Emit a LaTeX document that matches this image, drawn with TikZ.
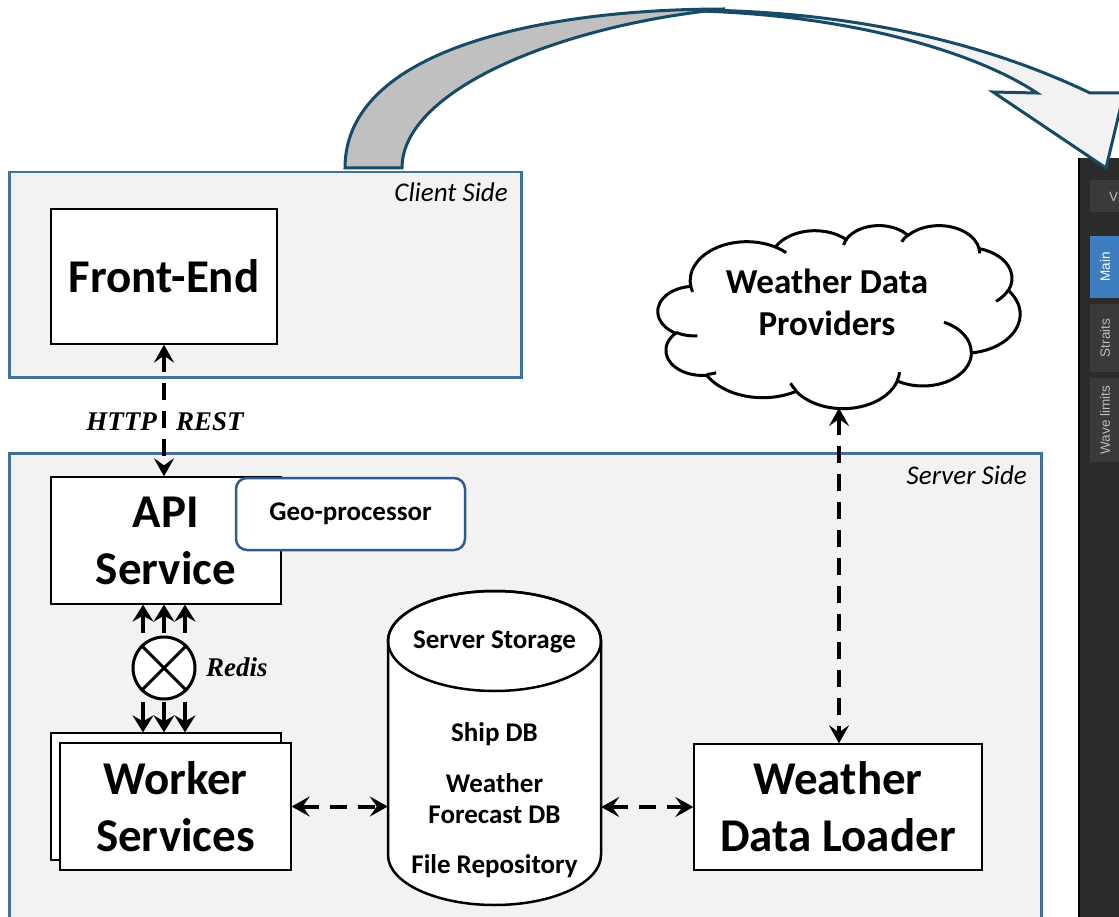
\documentclass[tikz,border=0pt]{standalone}
\usepackage{fontspec}
\setmainfont{Carlito}
\newfontfamily\tnr{Liberation Serif}
\newfontfamily\uisans{Liberation Sans}
\usetikzlibrary{arrows.meta}

\definecolor{panel}{HTML}{F2F2F2}
\definecolor{panelline}{HTML}{41719C}
\definecolor{geoline}{HTML}{2E5C8A}
\definecolor{ribbonline}{HTML}{174A66}
\definecolor{ribbon}{HTML}{C0C0C0}
\definecolor{scr}{HTML}{2B2B2B}
\definecolor{tabgray}{HTML}{3A3A3A}
\definecolor{tabblue}{HTML}{3E7DC0}
\definecolor{tabtxt}{HTML}{BDBDBD}

\tikzset{
  varc/.style n args={4}{insert path={arc[start angle={atan2(#1*sin(#3),#2*cos(#3))},
     delta angle={Mod(atan2(#1*sin(#3+#4),#2*cos(#3+#4))-atan2(#1*sin(#3),#2*cos(#3)),360)},
     x radius=#1, y radius=#2]}},
  panelbox/.style={draw=panelline, fill=panel, line width=2.5pt, inner sep=0pt},
  plainbox/.style={draw=black, fill=white, line width=1.3pt, inner sep=0pt, align=center},
  boxnode/.style={plainbox, font=\bfseries\fontsize{47}{57}\selectfont},
  geobox/.style={draw=geoline, fill=white, line width=2.5pt, rounded corners=11pt, inner sep=0pt,
     font=\bfseries\fontsize{27}{32}\selectfont},
  sidelabel/.style={font=\itshape\fontsize{27}{32}\selectfont, inner sep=0pt},
  dblabel/.style={font=\bfseries\fontsize{27}{32}\selectfont, inner sep=0pt, anchor=base},
  prot/.style={font=\tnr\bfseries\itshape\fontsize{27}{32}\selectfont, inner sep=0pt},
  dasharrow/.style={line width=4pt, dash pattern=on 17pt off 11pt, {Stealth[length=18pt, width=20pt, inset=7pt]}-{Stealth[length=18pt, width=20pt, inset=7pt]}},
  solidarrow/.style={line width=4pt, -{Stealth[length=17pt, width=21pt, inset=6pt]}},
  tabtext/.style={font=\uisans\fontsize{13.5}{15}\selectfont, text=tabtxt, inner sep=0pt},
  ribbonpart/.style={draw=ribbonline, line width=3pt, line join=miter},
}

\begin{document}
\begin{tikzpicture}[x=1pt,y=-1pt]
\useasboundingbox (0,0) rectangle (1119,917);
\begin{scope}
\clip (0,0) rectangle (1119,917);

% ---- application screenshot at the right edge
\fill[scr] (1079,158) rectangle (1130,930);
\draw[black, line width=2pt] (1079,158) -- (1079,930);
\fill[tabgray] (1090,180) rectangle (1130,212);
\node[tabtext, anchor=west] (tabv) at (1109,197) {V};
\fill[tabblue] (1090,236) rectangle (1130,298);
\node[tabtext, text=white, rotate=90] (tabmain) at (1105,267) {Main};
\fill[tabgray] (1090,304) rectangle (1130,372);
\node[tabtext, rotate=90] (tabstr) at (1105,338) {Straits};
\fill[tabgray] (1090,378) rectangle (1130,462);
\node[tabtext, rotate=90] (tabwave) at (1105,420) {Wave limits};

% ---- big curved arrow
\path[ribbonpart, fill=panel]
  (700,10) .. controls (860,12) and (990,45) .. (1090,93)
  -- (1124,93) -- (1106,168) -- (993,92) -- (1037,93)
  .. controls (980,55) and (860,16) .. (700,11) -- cycle;
\path[ribbonpart, fill=ribbon]
  (345,168) .. controls (345,50) and (540,9) .. (725,9)
  .. controls (560,25) and (402,90) .. (402,168) -- cycle;

% ---- panels
\node[panelbox, minimum width=512pt, minimum height=205pt, anchor=north west] (client) at (8,171) {};
\node[panelbox, minimum width=1032pt, minimum height=480pt, anchor=north west] (server) at (8,452) {};
\node[sidelabel, anchor=base east] (clientlbl) at (508,202) {Client Side};
\node[sidelabel, anchor=base east] (serverlbl) at (1027,484) {Server Side};

% ---- boxes
\node[boxnode, minimum width=226pt, minimum height=135pt] (fe) at (164,276.5) {Front-End};
\node[boxnode, minimum width=230pt, minimum height=127pt] (api) at (166,540.5) {API\\Service};
\node[geobox, minimum width=229pt, minimum height=72pt] (geo) at (350.5,514) {Geo-processor};
\node[plainbox, minimum width=230pt, minimum height=127pt] (wkb) at (166,796.5) {};
\node[boxnode, minimum width=231pt, minimum height=127pt] (wk) at (175.5,806.5) {Worker\\Services};
\node[boxnode, minimum width=288pt, minimum height=126pt] (ld) at (838,807) {Weather\\Data Loader};

% ---- Redis
\node[circle, draw, fill=white, line width=3pt, minimum size=62pt, inner sep=0pt] (rd) at (164,668) {};
\draw[line width=3pt] (rd.north east) -- (rd.south west) (rd.north west) -- (rd.south east);
\node[prot, anchor=base west] (redis) at (206,676) {Redis};
\foreach \dx in {-21,0,21} {
  \draw[solidarrow] ([xshift=\dx pt, yshift=3pt]rd.north) -- ([xshift=\dx pt]rd.north |- api.south);
  \draw[solidarrow] ([xshift=\dx pt, yshift=-1pt]rd.south) -- ([xshift=\dx pt]rd.south |- wkb.north);
}

% ---- storage cylinder
\node[minimum width=213pt, minimum height=314pt, inner sep=0pt] (db) at (494.5,748) {};
\draw[line width=2.5pt, fill=white] (388,641) -- (388,855)
  arc[start angle=180, end angle=360, x radius=106.5pt, y radius=50pt]
  -- (601,641) arc[start angle=0, end angle=180, x radius=106.5pt, y radius=50pt] -- cycle;
\draw[line width=2.5pt] (494.5,641) ellipse[x radius=106.5pt, y radius=50pt];
\node[dblabel] (dbt) at (494.5,648) {Server Storage};
\node[dblabel] (dbship) at (494.5,741) {Ship DB};
\node[dblabel] (dbw1) at (494.5,792) {Weather};
\node[dblabel] (dbw2) at (494.5,823) {Forecast DB};
\node[dblabel] (dbfile) at (494.5,873) {File Repository};

% ---- cloud
\begin{scope}[shift={(658,225)}, x=0.838pt, y=-0.4236pt]
\draw[line width=3pt, fill=white, line join=round] (39.00,143.70)
  [varc={67.53}{91.90}{-190.4875}{123.7805}]
  [varc={53.33}{72.67}{-144.1024}{89.9452}]
  [varc={43.65}{59.45}{-145.8079}{99.7230}]
  [varc={48.57}{65.95}{-130.9861}{117.2417}]
  [varc={53.33}{72.73}{-78.7089}{109.0269}]
  [varc={67.75}{92.20}{-46.2673}{130.2690}]
  [varc={57.85}{78.67}{0.6250}{114.0333}]
  [varc={67.52}{92.15}{22.4516}{115.1726}]
  [varc={77.20}{105.43}{66.2426}{75.7110}]
  [varc={43.60}{59.18}{-274.9421}{146.7356}]
  [varc={43.45}{59.45}{-246.8285}{152.5189}] -- cycle;
\draw[line width=3pt]
  (46.93,261.77) [varc={43.45}{59.45}{86.7420}{26.4295}]
  (69.28,348.99) [varc={43.60}{59.18}{73.6105}{11.4475}]
  (164.78,390.90) [varc={67.52}{92.15}{137.6242}{14.0811}]
  (288.27,347.51) [varc={67.52}{92.15}{6.4533}{15.9984}]
  (341.29,229.54) [varc={57.85}{78.67}{-70.2924}{70.9174}]
  (417.98,153.54) [varc={53.33}{72.73}{30.3180}{27.7515}]
  (383.24,54.26) [varc={48.57}{65.95}{-13.7443}{14.8589}]
  (290.78,39.52) [varc={48.57}{65.95}{-149.1815}{18.1954}]
  (221.41,47.20) [varc={43.65}{59.45}{-163.4943}{17.8384}]
  (140.00,51.92) [varc={67.53}{91.90}{-66.7070}{12.3194}]
  (41.27,157.89) [varc={67.53}{91.90}{157.6544}{11.8582}];
\end{scope}
\node[font=\bfseries\fontsize{35}{42}\selectfont, align=center, inner sep=0pt] (wdp) at (827,302) {Weather Data\\Providers};
\coordinate (cb) at (839,408);

% ---- connectors
\draw[dasharrow] (fe.south) -- (fe.south |- api.north);
\node[prot, anchor=base east] (http) at (157,430) {HTTP};
\node[prot, anchor=base west] (rest) at (176,430) {REST};
\draw[dasharrow] (cb) -- (cb |- ld.north);
\draw[dasharrow] (wk.east) -- (wk.east -| db.west);
\draw[dasharrow] (db.east |- ld.west) -- (ld.west);
\end{scope}
\end{tikzpicture}
\end{document}
